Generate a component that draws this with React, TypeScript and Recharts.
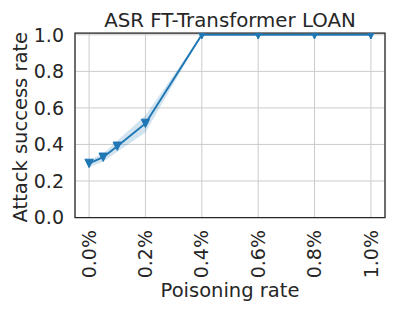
import React from 'react';
import { ComposedChart, Line, Area, XAxis, YAxis, CartesianGrid, ReferenceArea } from 'recharts';

const poisoningRates = [0, 0.05, 0.1, 0.2, 0.4, 0.6, 0.8, 1.0];
const asrMean = [0.296, 0.33, 0.39, 0.515, 1.0, 1.0, 1.0, 1.0];
const asrLow = [0.275, 0.305, 0.36, 0.465, 1.0, 1.0, 1.0, 1.0];
const asrHigh = [0.315, 0.35, 0.42, 0.56, 1.0, 1.0, 1.0, 1.0];
const xTicks = [0, 0.2, 0.4, 0.6, 0.8, 1.0];
const yTicks = [0, 0.2, 0.4, 0.6, 0.8, 1.0];

const data = poisoningRates.map((x, i) => ({
  x,
  asr: asrMean[i],
  band: [asrLow[i], asrHigh[i]],
}));

const TEXT = '#262626';
const BLUE = '#1f77b4';
const FONT = '"DejaVu Sans", sans-serif';

const TriangleDot = (props: any) => {
  const { cx, cy } = props;
  if (cx == null || cy == null) return null;
  const s = 4.2;
  return (
    <polygon
      points={`${cx - s},${cy - s} ${cx + s},${cy - s} ${cx},${cy + s}`}
      fill={BLUE}
      stroke={BLUE}
      strokeWidth={1}
    />
  );
};

const XTick = (props: any) => {
  const { x, y, payload } = props;
  return (
    <g transform={`translate(${x},${y})`}>
      <text
        x={-4.5}
        y={0}
        dy="0.35em"
        transform="rotate(-90)"
        textAnchor="end"
        fill={TEXT}
        fontSize={19}
        fontFamily={FONT}
      >
        {`${payload.value.toFixed(1)}%`}
      </text>
    </g>
  );
};

const TitleLabel = (props: any) => {
  const vb = props.viewBox || {};
  return (
    <text x={vb.x + vb.width / 2} y={27} textAnchor="middle" fill={TEXT} fontSize={19.8} fontFamily={FONT}>
      ASR FT-Transformer LOAN
    </text>
  );
};

const XLabel = (props: any) => {
  const vb = props.viewBox || {};
  return (
    <text x={vb.x + vb.width / 2} y={297} textAnchor="middle" fill={TEXT} fontSize={19.5} fontFamily={FONT}>
      Poisoning rate
    </text>
  );
};

const YLabel = (props: any) => {
  const vb = props.viewBox || {};
  const cy = vb.y + vb.height / 2 + 2;
  return (
    <text
      x={27}
      y={cy}
      textAnchor="middle"
      transform={`rotate(-90, 27, ${cy})`}
      fill={TEXT}
      fontSize={19.5}
      fontFamily={FONT}
    >
      Attack success rate
    </text>
  );
};

export default function App() {
  return (
    <div style={{ position: 'absolute', left: 0, top: 0, background: '#fff' }}>
      <ComposedChart
        width={395}
        height={311}
        data={data}
        margin={{ top: 33, right: 10, bottom: 0, left: 0 }}
      >
        <CartesianGrid stroke="#cccccc" strokeWidth={1} />
        <XAxis
          dataKey="x"
          type="number"
          domain={[-0.05, 1.05]}
          ticks={xTicks}
          interval={0}
          allowDataOverflow
          axisLine={false}
          tickLine={false}
          height={93.5}
          tick={<XTick />}
          label={<XLabel />}
        />
        <YAxis
          type="number"
          domain={[0, 1.01]}
          ticks={yTicks}
          interval={0}
          allowDataOverflow
          axisLine={false}
          tickLine={false}
          width={75}
          tickMargin={5}
          tickFormatter={(v: number) => v.toFixed(1)}
          tick={{ fill: TEXT, fontSize: 19, fontFamily: FONT }}
          label={<YLabel />}
        />
        <Area
          type="linear"
          dataKey="band"
          stroke="none"
          fill={BLUE}
          fillOpacity={0.2}
          isAnimationActive={false}
          dot={false}
          activeDot={false}
        />
        <Line
          type="linear"
          dataKey="asr"
          stroke={BLUE}
          strokeWidth={2}
          dot={<TriangleDot />}
          activeDot={false}
          isAnimationActive={false}
        />
        <ReferenceArea
          x1={-0.05}
          x2={1.05}
          y1={0}
          y2={1.01}
          fill="none"
          stroke={TEXT}
          strokeWidth={1.25}
          ifOverflow="visible"
          label={<TitleLabel />}
        />
      </ComposedChart>
    </div>
  );
}
